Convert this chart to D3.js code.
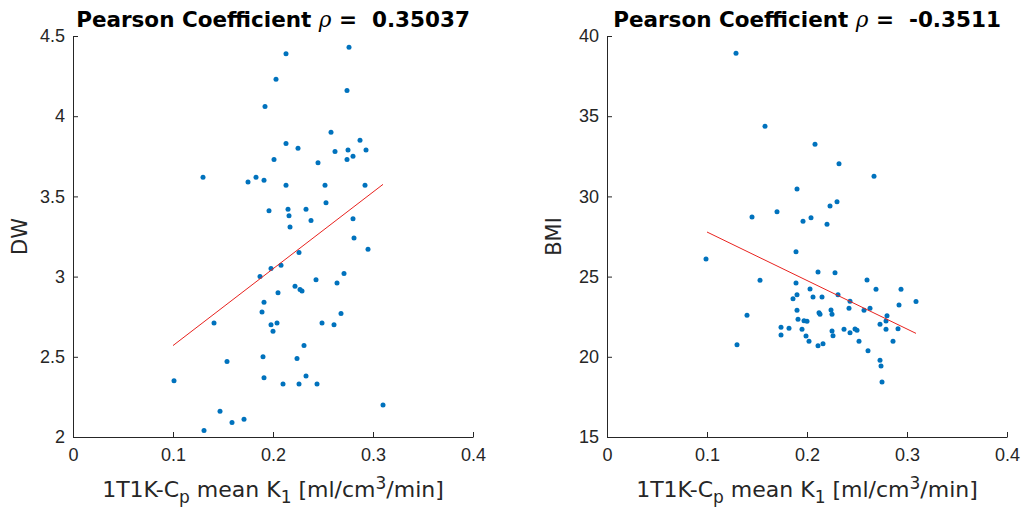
<!DOCTYPE html>
<html>
<head>
<meta charset="utf-8">
<script src="https://cdn.jsdelivr.net/npm/d3@7"></script>
<style>
  body { margin: 0; background: #fff; }
  svg { font-family: "DejaVu Sans", sans-serif; }
  .tick text { fill: #262626; font-size: 18px; }
  .domain, .tick line { stroke: #262626; }
</style>
</head>
<body>
<div class="chart"></div>
<script>
var svgWidth = 1022;
var svgHeight = 512;

// x ticks shared by both panels
var xTicks = [0, 0.1, 0.2, 0.3, 0.4];

// left panel: DW vs K1
var dwK1 = [0.130, 0.213, 0.276, 0.203, 0.274, 0.192, 0.258, 0.213, 0.225, 0.287,
  0.262, 0.275, 0.293, 0.274, 0.280, 0.201, 0.245, 0.175, 0.183, 0.191,
  0.213, 0.252, 0.292, 0.253, 0.196, 0.215, 0.216, 0.233, 0.238, 0.280,
  0.217, 0.281, 0.295, 0.226, 0.198, 0.208, 0.187, 0.243, 0.271, 0.264,
  0.205, 0.222, 0.227, 0.229, 0.191, 0.189, 0.268, 0.198, 0.204, 0.200,
  0.249, 0.261, 0.231, 0.190, 0.224, 0.191, 0.233, 0.210, 0.226, 0.244,
  0.310, 0.159, 0.171, 0.141, 0.154, 0.101, 0.147, 0.131];
var dwValues = [3.62, 4.39, 4.43, 4.23, 4.16, 4.06, 3.90, 3.83, 3.80, 3.85,
  3.78, 3.79, 3.79, 3.73, 3.75, 3.73, 3.71, 3.59, 3.62, 3.60,
  3.57, 3.57, 3.57, 3.46, 3.41, 3.42, 3.38, 3.42, 3.35, 3.36,
  3.31, 3.24, 3.17, 3.15, 3.05, 3.07, 3.00, 2.98, 3.02, 2.96,
  2.90, 2.94, 2.92, 2.91, 2.84, 2.78, 2.77, 2.70, 2.71, 2.66,
  2.71, 2.70, 2.57, 2.50, 2.49, 2.37, 2.38, 2.33, 2.33, 2.33,
  2.20, 2.09, 2.11, 2.71, 2.47, 2.35, 2.16, 2.04];
var dwFitX = [0.1, 0.31];
var dwFitY = [2.57, 3.575];
var dwTicks = [2, 2.5, 3, 3.5, 4, 4.5];

// right panel: BMI vs K1
var bmiK1 = [0.129, 0.158, 0.145, 0.208, 0.232, 0.267, 0.190, 0.170, 0.230, 0.223,
  0.196, 0.204, 0.220, 0.189, 0.153, 0.211, 0.228, 0.260, 0.269, 0.294,
  0.309, 0.189, 0.203, 0.186, 0.190, 0.206, 0.215, 0.231, 0.243, 0.242,
  0.263, 0.257, 0.292, 0.280, 0.279, 0.273, 0.190, 0.212, 0.213, 0.224,
  0.225, 0.191, 0.197, 0.200, 0.174, 0.182, 0.195, 0.174, 0.199, 0.202,
  0.211, 0.216, 0.225, 0.226, 0.237, 0.243, 0.248, 0.250, 0.252, 0.261,
  0.279, 0.291, 0.286, 0.273, 0.274, 0.275, 0.099, 0.140, 0.130];
var bmiValues = [38.92, 34.37, 28.72, 33.25, 32.04, 31.25, 30.46, 29.05, 29.67, 29.40,
  28.45, 28.67, 28.26, 26.55, 24.77, 25.29, 25.24, 24.79, 24.21, 24.21,
  23.44, 24.60, 24.23, 23.62, 23.87, 23.73, 23.73, 23.87, 23.46, 23.02,
  23.02, 22.90, 23.23, 22.56, 22.23, 22.03, 22.90, 22.75, 22.65, 22.92,
  22.65, 22.34, 22.25, 22.21, 21.84, 21.78, 21.72, 21.36, 21.30, 20.97,
  20.69, 20.82, 21.61, 21.32, 21.71, 21.50, 21.73, 21.65, 20.97, 20.38,
  21.71, 21.75, 20.97, 19.78, 19.43, 18.43, 26.10, 22.59, 20.75];
var bmiFitX = [0.1, 0.309];
var bmiFitY = [27.78, 21.46];
var bmiTicks = [15, 20, 25, 30, 35, 40];

var pearson = ["0.35037", "-0.3511"];
var yLabels = ["DW", "BMI"];

var svg = d3.select(".chart")
  .append("svg")
  .attr("width", svgWidth)
  .attr("height", svgHeight);

var panels = [
  { left: 73, x: dwK1, y: dwValues, fx: dwFitX, fy: dwFitY, domain: [2, 4.5], ticks: dwTicks, r: pearson[0], label: yLabels[0] },
  { left: 607, x: bmiK1, y: bmiValues, fx: bmiFitX, fy: bmiFitY, domain: [15, 40], ticks: bmiTicks, r: pearson[1], label: yLabels[1] }
];

var marginTop = 36;
var plotW = 400;
var plotH = 401;

panels.forEach(function(p) {
  var g = svg.append("g")
    .attr("transform", `translate(${p.left}, ${marginTop})`);

  var xScale = d3.scaleLinear().domain([0, 0.4]).range([0, plotW]);
  var yScale = d3.scaleLinear().domain(p.domain).range([plotH, 0]);

  // axes, ticks point inward like matlab
  g.append("g")
    .attr("transform", `translate(0, ${plotH})`)
    .call(d3.axisBottom(xScale).tickValues(xTicks).tickSizeInner(-5).tickSizeOuter(0).tickPadding(11)
      .tickFormat(d3.format("")));

  g.append("g")
    .call(d3.axisLeft(yScale).tickValues(p.ticks).tickSizeInner(-5).tickSizeOuter(0).tickPadding(8)
      .tickFormat(d3.format("")));

  g.selectAll(".tick text").style("font-size", "18px");

  // scatter
  g.selectAll("circle")
    .data(p.x)
    .enter()
    .append("circle")
    .attr("cx", d => xScale(d))
    .attr("cy", (d, i) => yScale(p.y[i]))
    .attr("r", 2.5)
    .attr("fill", "#0072BD");

  // fit line
  var line = d3.line()
    .x(d => xScale(d))
    .y((d, i) => yScale(p.fy[i]));
  g.append("path")
    .datum(p.fx)
    .attr("d", line)
    .attr("fill", "none")
    .attr("stroke", "#e8221e")
    .attr("stroke-width", 1);

  // title
  var title = g.append("text")
    .attr("x", plotW / 2)
    .attr("y", -9)
    .attr("text-anchor", "middle")
    .style("font-size", "21.5px")
    .style("font-weight", "bold")
    .style("white-space", "pre")
    .attr("fill", "#000");
  title.append("tspan").text("Pearson Coefficient ");
  title.append("tspan").style("font-style", "italic").style("font-weight", "normal")
    .style("font-family", "'DejaVu Serif', serif").text("\u03c1");
  title.append("tspan").text(" =  " + p.r);

  // x label
  var xl = g.append("text")
    .attr("x", plotW / 2)
    .attr("y", plotH + 60)
    .attr("text-anchor", "middle")
    .attr("fill", "#262626")
    .style("font-size", "22px");
  xl.append("tspan").text("1T1K-C");
  xl.append("tspan").attr("dy", 6).style("font-size", "17px").text("p");
  xl.append("tspan").attr("dy", -6).text(" mean K");
  xl.append("tspan").attr("dy", 6).style("font-size", "17px").text("1");
  xl.append("tspan").attr("dy", -6).text(" [ml/cm");
  xl.append("tspan").attr("dy", -8).style("font-size", "17px").text("3");
  xl.append("tspan").attr("dy", 8).text("/min]");

  // y label
  g.append("text")
    .attr("transform", "rotate(-90)")
    .attr("x", -plotH / 2)
    .attr("y", -46)
    .attr("text-anchor", "middle")
    .attr("fill", "#262626")
    .style("font-size", "21px")
    .text(p.label);
});
</script>
</body>
</html>
